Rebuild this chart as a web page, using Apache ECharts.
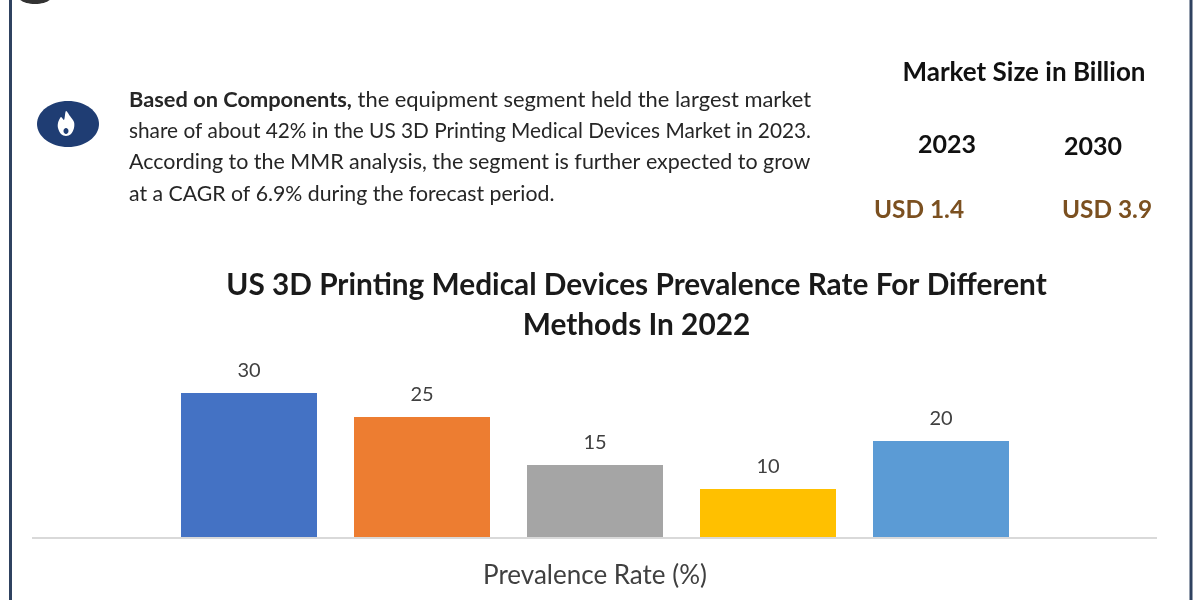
<!DOCTYPE html>
<html><head><meta charset="utf-8">
<style>html,body{margin:0;padding:0;background:#fff}#c{width:1200px;height:600px}</style>
<script src="https://cdn.jsdelivr.net/npm/echarts@6/dist/echarts.min.js"></script>
</head><body><div id="c"></div>
<script>
var categories = ['Method 1','Method 2','Method 3','Method 4','Method 5'];
var values = [30,25,15,10,20];
var barColors = ['#4472c4','#ed7d31','#a5a5a5','#ffc000','#5b9bd5'];
var chartTitle = 'US 3D Printing Medical Devices Prevalence Rate For Different\nMethods In 2022';
var axisName = 'Prevalence Rate (%)';
var bodyBold = 'Based on Components,';
var bodyLines = [' the equipment segment held the largest market','share of about 42% in the US 3D Printing Medical Devices Market in 2023.','According to the MMR analysis, the segment is further expected to grow','at a CAGR of 6.9% during the forecast period.'];
var marketHead = 'Market Size in Billion';
var years = ['2023','2030'];
var sizes = ['USD 1.4','USD 3.9'];
var F = 'Lato, "Open Sans", sans-serif';
function t(x,y,text,size,weight,color,align,extra){
  return {type:'text',x:x,y:y,style:Object.assign({text:text,font:(weight||'normal')+' '+size+'px '+F,fill:color,align:align||'left',verticalAlign:'middle'},extra||{})};
}
var chart = echarts.init(document.getElementById('c'),null,{renderer:'canvas'});
var flame = [[66,111],[70,116],[74,122],[74,128],[71,134],[66,136],[61,134],[58,128],[58,123],[61,117],[64,120]];
chart.setOption({
  animation:false,
  backgroundColor:'#fff',
  grid:{left:162.5,width:865,top:345,height:192,containLabel:false},
  xAxis:{type:'category',data:categories,axisLine:{show:false},axisTick:{show:false},axisLabel:{show:false},
    name:axisName,nameLocation:'middle',nameGap:26,nameTextStyle:{fontFamily:F,fontSize:26,color:'#404040'}},
  yAxis:{type:'value',min:0,max:40,interval:10,show:false,splitLine:{show:false}},
  series:[{type:'bar',data:values.map(function(v,i){return {value:v,itemStyle:{color:barColors[i]}};}),barWidth:136,
    label:{show:true,position:'top',distance:12,fontFamily:F,fontSize:20,color:'#404040'}}],
  graphic:[
    {type:'line',shape:{x1:32,y1:538,x2:1157,y2:538},style:{stroke:'#d9d9d9',lineWidth:2},z:-1},
    {type:'line',shape:{x1:10.5,y1:0,x2:10.5,y2:600},style:{stroke:'#2f4260',lineWidth:3}},
    {type:'line',shape:{x1:1191,y1:0,x2:1191,y2:600},style:{stroke:'#2f4260',lineWidth:3}},
    {type:'ellipse',shape:{cx:68,cy:124,rx:31,ry:23},style:{fill:'#1f3d73'}},
    {type:'polygon',shape:{points:flame,smooth:0.3},style:{fill:'#fff'}},
    {type:'ellipse',shape:{cx:66,cy:131,rx:2.5,ry:3},style:{fill:'#1f3d73'}},
    {type:'ellipse',shape:{cx:35,cy:-4,rx:17,ry:8},style:{fill:'#333'}},
    t(129,100,'{b|'+bodyBold+'}{n|'+bodyLines[0]+'}',21.9,'normal','#262626','left',{rich:{b:{font:'bold 21.8px '+F,fill:'#262626'},n:{font:'normal 21.9px '+F,fill:'#262626'}}}),
    t(129,131,bodyLines[1],20.8,'normal','#262626'),
    t(129,162,bodyLines[2],21.45,'normal','#262626'),
    t(129,194,bodyLines[3],21.25,'normal','#262626'),
    t(1024,73,marketHead,26,'bold','#111','center'),
    t(947,145,years[0],25,'bold','#111','center'),
    t(1093,147,years[1],25,'bold','#111','center'),
    t(919,210,sizes[0],24.4,'bold','#7b5020','center'),
    t(1107,210,sizes[1],24.4,'bold','#7b5020','center'),
    t(636.5,305,chartTitle,29.8,'bold','#1a1a1a','center',{lineHeight:40})
  ]
});
</script></body></html>
